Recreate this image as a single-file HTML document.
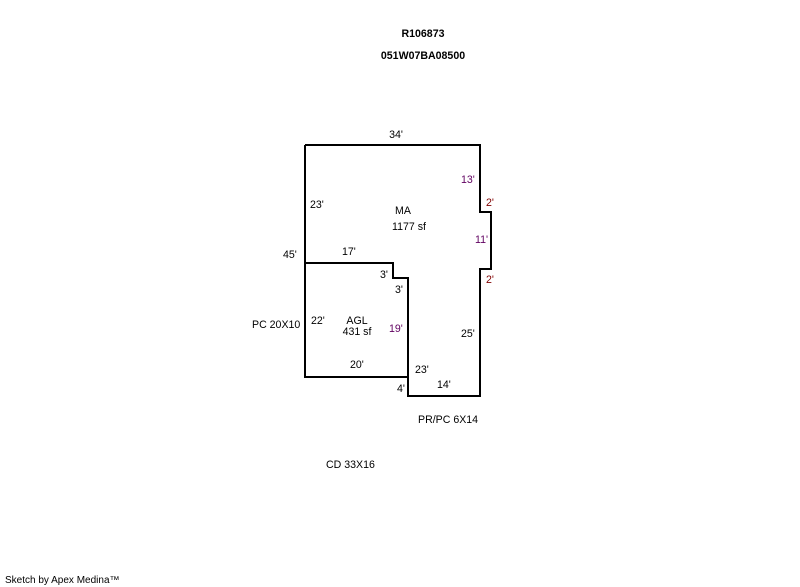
<!DOCTYPE html>
<html><head><style>
body{margin:0;background:#fff;}
svg{display:block}
text{font-family:"Liberation Sans",Arial,sans-serif;font-size:10.6px;fill:#000}
.b{font-weight:bold}
.p{fill:#600060}.r{fill:#800000}
</style></head><body>
<svg width="800" height="587" viewBox="0 0 800 587">
<g fill="none" stroke="#000" stroke-width="2">
<polyline points="305,145 480,145 480,212 491,212 491,269 480,269 480,396 408,396 408,377 305,377 305,145"/>
<polyline points="305,263 393,263 393,278 408,278 408,377"/>
</g>
<text class="b" x="423" y="37" text-anchor="middle">R106873</text>
<text class="b" x="423" y="59" text-anchor="middle">051W07BA08500</text>
<text x="396" y="138" text-anchor="middle">34'</text>
<text x="461" y="183" class="p">13'</text>
<text x="486" y="206" class="r">2'</text>
<text x="475" y="243" class="p">11'</text>
<text x="486" y="283" class="r">2'</text>
<text x="310" y="208">23'</text>
<text x="403" y="214" text-anchor="middle">MA</text>
<text x="409" y="230" text-anchor="middle">1177 sf</text>
<text x="283" y="258">45'</text>
<text x="342" y="255">17'</text>
<text x="380" y="278">3'</text>
<text x="395" y="293">3'</text>
<text x="252" y="328">PC 20X10</text>
<text x="311" y="324">22'</text>
<text x="357" y="324" text-anchor="middle">AGL</text>
<text x="357" y="335" text-anchor="middle">431 sf</text>
<text x="389" y="332" class="p">19'</text>
<text x="461" y="337">25'</text>
<text x="350" y="368">20'</text>
<text x="415" y="373">23'</text>
<text x="397" y="392">4'</text>
<text x="437" y="388">14'</text>
<text x="418" y="423">PR/PC 6X14</text>
<text x="326" y="468">CD 33X16</text>
<text x="5" y="583" style="font-size:10px">Sketch by Apex Medina™</text>
</svg>
</body></html>
